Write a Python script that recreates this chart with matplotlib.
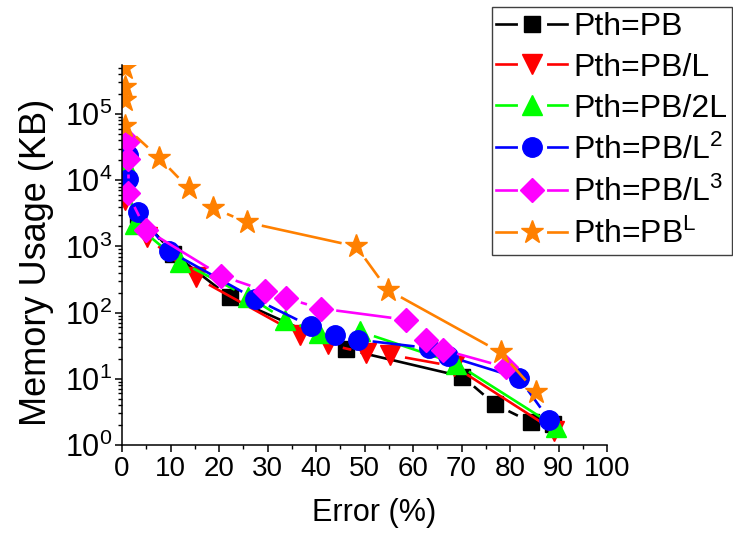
import numpy as np
import matplotlib
matplotlib.use('Agg')
import matplotlib.pyplot as plt
from matplotlib.lines import Line2D

plt.rcParams['font.family'] = ['Liberation Sans', 'DejaVu Sans']
plt.rcParams['mathtext.fontset'] = 'custom'
plt.rcParams['mathtext.rm'] = 'Liberation Sans'
plt.rcParams['mathtext.it'] = 'Liberation Sans:italic'
plt.rcParams['mathtext.bf'] = 'Liberation Sans:bold'

# data: error (%) vs memory usage (KB)
err_pb = [0.5, 3.4, 10.6, 22.3, 46.2, 70.2, 76.9, 84.4, 88.8]
mem_pb = [1.2e4, 3.0e3, 780, 170, 28, 10.8, 4.1, 2.2, 2.1]

err_l = [0.6, 5.1, 15.2, 36.7, 42.5, 50.3, 55.3, 68.5, 89.1]
mem_l = [5e3, 1.4e3, 340, 46, 33, 24.5, 23, 15.4, 1.65]

err_2l = [0.8, 2.6, 11.9, 26.0, 33.7, 40.7, 49.0, 68.9, 89.4]
mem_2l = [1.7e4, 2.2e3, 590, 175, 78, 49, 52, 17, 1.9]

err_l2 = [1.2, 1.2, 3.2, 9.7, 27.5, 38.9, 44.0, 48.6, 63.4, 67.2, 81.9, 88.1]
mem_l2 = [2.4e4, 1.05e4, 3.3e3, 850, 160, 62, 46, 39, 29, 22, 10.2, 2.4]

err_l3 = [1.2, 1.2, 1.2, 4.9, 20.5, 29.4, 33.9, 41.1, 58.6, 62.7, 66.1, 79.1]
mem_l3 = [3.9e4, 2.1e4, 6.3e3, 1.8e3, 360, 215, 165, 115, 78, 39, 27.5, 15]

err_pl = [0.6, 0.6, 0.6, 0.6, 7.6, 13.8, 18.8, 25.8, 48.3, 54.8, 78.1, 85.3]
mem_pl = [4.9e5, 2.6e5, 1.6e5, 6.5e4, 2.2e4, 7.5e3, 3.8e3, 2.3e3, 1.0e3, 220, 25, 6.4]

labels = ['Pth=PB', 'Pth=PB/L', 'Pth=PB/2L', r'Pth=PB/L$^2$', r'Pth=PB/L$^3$',
          r'Pth=PB$^\mathrm{L}$']
colors = ['#000000', '#ff0000', '#00ff00', '#0000ff', '#ff00ff', '#ff8000']
markers = ['s', 'v', '^', 'o', 'D', '*']
msizes = [12, 14, 14, 14, 12, 17]

series = [(err_pb, mem_pb), (err_l, mem_l), (err_2l, mem_2l),
          (err_l2, mem_l2), (err_l3, mem_l3), (err_pl, mem_pl)]

fig = plt.figure(figsize=(7.33, 5.38), dpi=100)
ax = fig.add_axes([122/733, 93/538, 485/733, 380/538])
ax.set_xlim(0, 100)
ax.set_yscale('log')
ax.set_ylim(1, 5.5e5)

lw = 1.9
gap = 15  # pixels of line left out around each marker (Origin style)


def gapped_line(x, y, color):
    pts = ax.transData.transform(np.column_stack([x, y]))
    inv = ax.transData.inverted()
    for p0, p1 in zip(pts[:-1], pts[1:]):
        d = p1 - p0
        L = np.hypot(d[0], d[1])
        if L <= 2 * gap + 2:
            continue
        u = d / L
        seg = inv.transform(np.array([p0 + gap * u, p1 - gap * u]))
        ax.plot(seg[:, 0], seg[:, 1], color=color, lw=lw, solid_capstyle='butt')


handles = []
for (x, y), c, m, ms in zip(series, colors, markers, msizes):
    gapped_line(x, y, c)
    ax.plot(x, y, ls='none', marker=m, ms=ms, color=c, mec=c)
    h1 = Line2D([], [], color=c, lw=lw, marker='o', ms=20, mfc='white', mec='white')
    h2 = Line2D([], [], ls='none', marker=m, ms=ms, color=c, mec=c)
    handles.append((h1, h2))

ax.spines['top'].set_visible(False)
ax.spines['right'].set_visible(False)
ax.spines['left'].set_linewidth(1.1)
ax.spines['bottom'].set_linewidth(1.1)

ax.set_xticks(np.arange(0, 101, 10))
ax.set_xticks(np.arange(0, 101, 5), minor=True)
ax.tick_params(which='major', direction='out', length=5, width=1.1, labelsize=20, pad=3)
ax.tick_params(which='minor', direction='out', length=3, width=1.0)
ax.tick_params(axis='y', which='major', pad=2, labelsize=22)

ax.set_xlabel('Error (%)', fontsize=22)
ax.xaxis.set_label_coords(0.52, -0.14)
ax.set_ylabel('Memory Usage (KB)', fontsize=26)
ax.yaxis.set_label_coords(-0.14, 0.48)

leg = fig.legend(handles, labels, loc='upper right',
                 bbox_to_anchor=(732/733, 1 - 7/538), borderaxespad=0,
                 fontsize=23, handlelength=2.2, handletextpad=0.2,
                 labelspacing=0.34, borderpad=0.15, fancybox=False,
                 edgecolor='#404040', framealpha=1)
leg.get_frame().set_linewidth(1.0)

fig.savefig('out.png', dpi=100)
